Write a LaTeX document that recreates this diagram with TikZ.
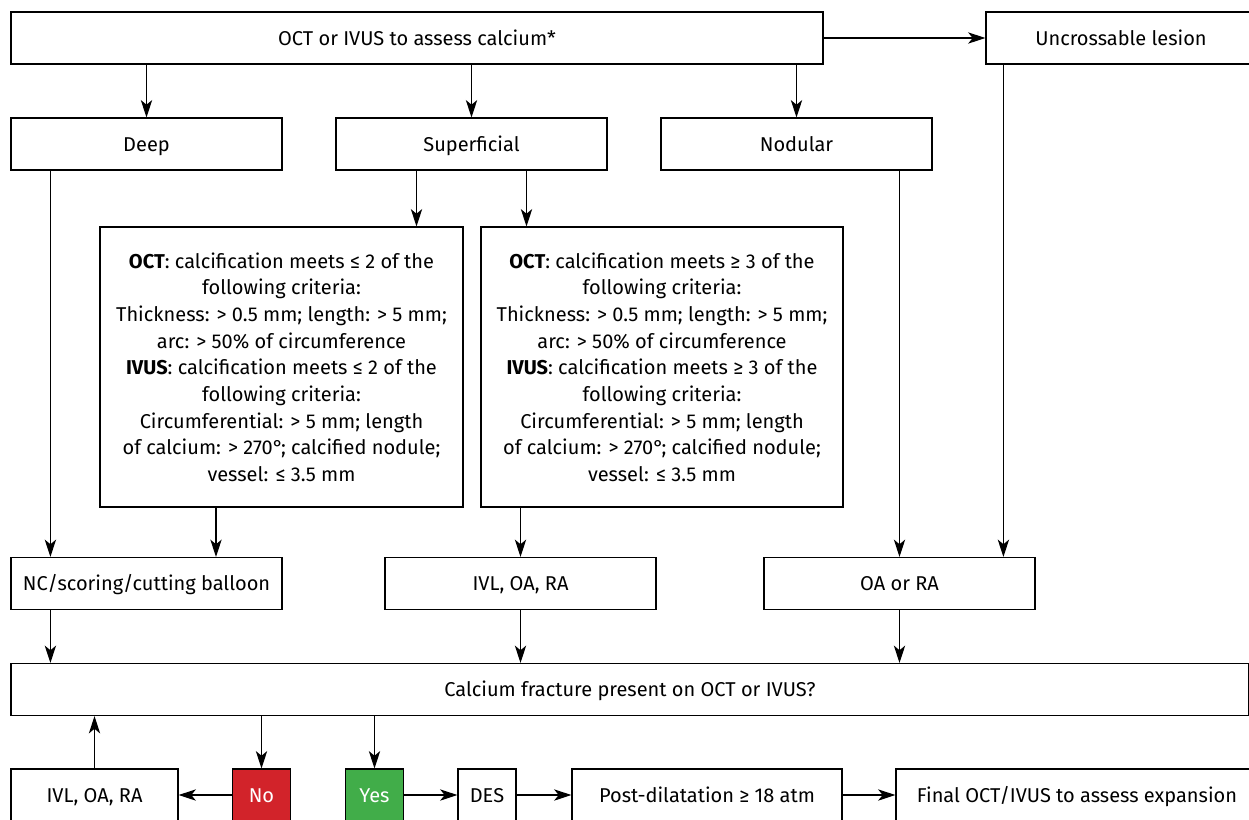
\documentclass[tikz,border=0pt]{standalone}
\usepackage{fontspec}
\setmainfont{Fira Sans}
\usetikzlibrary{arrows.meta,positioning,calc}
\definecolor{noRed}{HTML}{D2232A}
\definecolor{yesGreen}{HTML}{41AD49}

\begin{document}
\begin{tikzpicture}[x=0.75pt,y=-0.75pt,
  box/.style={rectangle,draw=black,line width=0.9pt,inner sep=0pt,minimum height=39pt,align=center,font=\fontsize{15}{20}\selectfont,text height=12.5pt,text depth=2pt},
  crit/.style={box,text height=,text depth=,minimum height=210pt},
  arr/.style={line width=0.9pt,-{Stealth[length=13pt,width=8.5pt,inset=3.5pt]}}]
\clip (0,0) rectangle (1249,819);
\node[box,minimum width=609pt](top) at (417,38){OCT or IVUS to assess calcium*};
\node[box,minimum width=202.5pt](uncross) at (1121,38){Uncrossable lesion};
\node[box,minimum width=203.25pt](deep) at (146.5,144){Deep};
\node[box,minimum width=203.25pt](super) at (471.5,144){Superficial};
\node[box,minimum width=203.25pt](nodular) at (796.5,144){Nodular};
\node[crit,minimum width=272.25pt](oct2) at (281.5,367){\textbf{OCT}: calcification meets ≤ 2 of the\\following criteria:\\Thickness: > 0.5 mm; length: > 5 mm;\\arc: > 50\% of circumference\\\textbf{IVUS}: calcification meets ≤ 2 of the\\following criteria:\\Circumferential: > 5 mm; length\\of calcium: > 270°; calcified nodule;\\vessel: ≤ 3.5 mm};
\node[crit,minimum width=271.5pt](oct3) at (662,367){\textbf{OCT}: calcification meets ≥ 3 of the\\following criteria:\\Thickness: > 0.5 mm; length: > 5 mm;\\arc: > 50\% of circumference\\\textbf{IVUS}: calcification meets ≥ 3 of the\\following criteria:\\Circumferential: > 5 mm; length\\of calcium: > 270°; calcified nodule;\\vessel: ≤ 3.5 mm};
\node[box,minimum width=203.25pt](nc) at (146.5,583.5){NC/scoring/cutting balloon};
\node[box,minimum width=203.25pt](ivl) at (520.5,583.5){IVL, OA, RA};
\node[box,minimum width=203.25pt](oara) at (899.5,583.5){OA or RA};
\node[box,minimum width=928.5pt](fract) at (630,689.5){Calcium fracture present on OCT or IVUS?};
\node[box,minimum width=125.25pt](ivl2) at (94.5,795){IVL, OA, RA};
\node[box,minimum width=43pt,fill=noRed,text=white](no) at (261.5,795){No};
\node[box,minimum width=43pt,fill=yesGreen,text=white](yes) at (374.5,795){Yes};
\node[box,minimum width=43.5pt](des) at (487,795){DES};
\node[box,minimum width=202.5pt](post) at (707,795){Post-dilatation ≥ 18 atm};
\node[box,minimum width=271.5pt](final) at (1077,795){Final OCT/IVUS to assess expansion};
\draw[arr] (top) -- (uncross);
\draw[arr] (top.south -| deep.north) -- (deep.north);
\draw[arr] (top.south -| super.north) -- (super.north);
\draw[arr] (top.south -| nodular.north) -- (nodular.north);
\draw[arr] ($(super.south)+(-55,0)$) coordinate (s1) -- (s1 |- oct2.north);
\draw[arr] ($(super.south)+(55,0)$) coordinate (s2) -- (s2 |- oct3.north);
\draw[arr] ($(deep.south west)+(40,0)$) coordinate (d1) -- (d1 |- nc.north);
\draw[arr] ($(oct2.south)+(-65.5,0)$) coordinate (o2) -- (o2 |- nc.north);
\draw[arr] (oct3.south -| ivl.north) -- (ivl.north);
\draw[arr] (nodular.south -| oara.north) -- (oara.north);
\draw[arr] ($(uncross.south west)+(18,0)$) coordinate (u1) -- (u1 |- oara.north);
\draw[arr] ($(nc.south west)+(40,0)$) coordinate (n1) -- (n1 |- fract.north);
\draw[arr] (ivl.south) -- (ivl.south |- fract.north);
\draw[arr] (oara.south) -- (oara.south |- fract.north);
\draw[arr] (ivl2.north) -- (ivl2.north |- fract.south);
\draw[arr] (fract.south -| no.north) -- (no.north);
\draw[arr] (fract.south -| yes.north) -- (yes.north);
\draw[arr] (no) -- (ivl2);
\draw[arr] (yes) -- (des);
\draw[arr] (des) -- (post);
\draw[arr] (post) -- (final);
\end{tikzpicture}
\end{document}
